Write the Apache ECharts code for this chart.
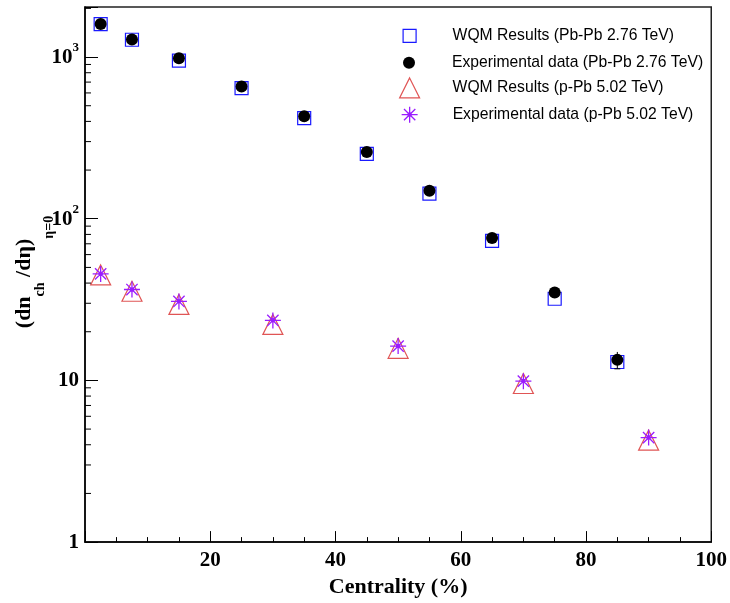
<!DOCTYPE html>
<html><head><meta charset="utf-8">
<script src="https://cdn.jsdelivr.net/npm/echarts@6/dist/echarts.min.js"></script>
<style>html,body{margin:0;padding:0;background:#fff}#c{width:730px;height:603px}</style>
</head><body><div id="c"></div>
<script>
// ---- data ----
const pbpbCentrality = [2.5, 7.5, 15, 25, 35, 45, 55, 65, 75, 85];
const wqmPbPb = [1600, 1280, 950, 643, 419, 252, 143, 73, 32, 13.0];
const expPbPb = [1603, 1284, 982, 658, 431, 259, 149, 76, 35, 13.4];
const expPbPbErr = [60, 49, 37, 23, 15, 9, 6, 4, 2, 1.6];
const ppbCentrality = [2.5, 7.5, 15, 30, 50, 70, 90];
const wqmPPb = [44.9, 35.6, 29.5, 22.2, 15.8, 9.57, 4.27];
const expPPb = [45.6, 36.5, 30.8, 23.5, 16.3, 9.9, 4.43];
const xTickValues = [20, 40, 60, 80, 100];
const yTickLabels = {1: '1', 10: '10', 100: '{m|10}{sup|2}', 1000: '{m|10}{sup|3}'};
const yMinorTicks = [2,3,4,5,6,7,8,9,20,30,40,50,60,70,80,90,200,300,400,500,600,700,800,900,2000];
const seriesNames = [
  'WQM Results (Pb-Pb 2.76 TeV)',
  'Experimental data (Pb-Pb 2.76 TeV)',
  'WQM Results (p-Pb 5.02 TeV)',
  'Experimental data (p-Pb 5.02 TeV)'
];
const xTitle = 'Centrality (%)';

// ---- chart ----
const SERIF = 'Liberation Serif';
const SANS = 'Liberation Sans';
const STAR = 'path://M8,0L8,16M0,8L16,8M2.34,2.34L13.66,13.66M2.34,13.66L13.66,2.34M9.7,8A1.7,1.7,0,1,1,6.3,8A1.7,1.7,0,1,1,9.7,8Z';
const zip = (xs, ys) => xs.map((x, i) => [x, ys[i]]);

const chart = echarts.init(document.getElementById('c'), null, {renderer: 'canvas'});

const legendSpecs = [
  {size: 13, cy: 34.3, pad: 31.5, bw: 1.2},
  {size: 12, cy: 60.7, pad: 32, bw: 0},
  {size: 20, cy: 87.3, pad: 28, bw: 1.2},
  {size: 16, cy: 114, pad: 30, bw: 1.3}
];
const legendCx = 409;

const option = {
  animation: false,
  backgroundColor: '#fff',
  grid: {left: 85, right: 16, top: 7, bottom: 57, show: true, borderColor: '#222', borderWidth: 1.5, containLabel: false},
  legend: legendSpecs.map((s, i) => ({
    data: [seriesNames[i]],
    orient: 'vertical',
    left: legendCx - s.size / 2,
    top: s.cy - s.size / 2,
    padding: 0,
    itemGap: 0,
    itemWidth: s.size,
    itemHeight: s.size,
    selectedMode: false,
    itemStyle: {borderWidth: s.bw},
    textStyle: {fontFamily: SANS, fontSize: 15.7, color: '#000', padding: [0, 0, 0, s.pad]}
  })),
  xAxis: {
    type: 'value', min: 0, max: 100, interval: 20,
    name: xTitle, nameLocation: 'middle', nameGap: 24,
    nameTextStyle: {fontFamily: SERIF, fontWeight: 'bold', fontSize: 22, color: '#000'},
    axisLine: {show: true, onZero: false, lineStyle: {color: '#000', width: 1.5}},
    axisTick: {show: true, inside: true, length: 11, lineStyle: {color: '#000', width: 1}},
    minorTick: {show: true, splitNumber: 4, length: 5, lineStyle: {color: '#000', width: 1}},
    splitLine: {show: false},
    axisLabel: {
      margin: 8, fontFamily: SERIF, fontWeight: 'bold', fontSize: 21, color: '#000',
      formatter: v => (xTickValues.indexOf(v) >= 0 ? String(v) : '')
    }
  },
  yAxis: {
    type: 'log', logBase: 10, min: 1, max: 2040,
    axisLine: {show: true, lineStyle: {color: '#000', width: 1.5}},
    axisTick: {show: true, inside: true, length: 13, lineStyle: {color: '#000', width: 1}},
    splitLine: {show: false},
    axisLabel: {
      margin: 6, fontFamily: SERIF, fontWeight: 'bold', fontSize: 21, color: '#000',
      formatter: v => {
        const e = Math.log10(v), r = Math.round(e);
        if (Math.abs(e - r) > 1e-6) return '';
        return yTickLabels[Math.pow(10, r)] || '';
      },
      rich: {
        m: {fontFamily: SERIF, fontWeight: 'bold', fontSize: 21, color: '#000', lineHeight: 22, verticalAlign: 'bottom', padding: [9, 0, 0, 0]},
        sup: {fontFamily: SERIF, fontWeight: 'bold', fontSize: 13, color: '#000', lineHeight: 13, verticalAlign: 'bottom', padding: [0, 0, 14, 0]}
      }
    }
  },
  graphic: [{
    type: 'text',
    x: 44, y: 272,
    rotation: Math.PI / 2,
    style: {
      text: '{a|(dn}{b|ch}{a| /dη)}{c|η=0}',
      align: 'center', verticalAlign: 'middle',
      rich: {
        a: {fontFamily: SERIF, fontWeight: 'bold', fontSize: 22, fill: '#000', lineHeight: 24, verticalAlign: 'bottom', padding: [0, 0, 21, 0]},
        b: {fontFamily: SERIF, fontWeight: 'bold', fontSize: 14, fill: '#000', lineHeight: 14, verticalAlign: 'bottom', padding: [0, 0, 8.5, 0]},
        c: {fontFamily: SERIF, fontWeight: 'bold', fontSize: 14, fill: '#000', lineHeight: 14, verticalAlign: 'bottom', padding: [0, 0, 0, 0]}
      }
    }
  }],
  series: [
    {
      name: seriesNames[0], type: 'scatter', data: zip(pbpbCentrality, wqmPbPb),
      symbol: 'rect', symbolSize: 13, z: 2,
      itemStyle: {color: 'rgba(0,0,0,0)', borderColor: '#1a1aff', borderWidth: 1.2, opacity: 1}
    },
    {
      name: 'errPbPb', type: 'custom', z: 3, silent: true,
      data: pbpbCentrality.map((x, i) => [x, expPbPb[i], expPbPbErr[i]]),
      renderItem: (params, api) => {
        const x = api.value(0), y = api.value(1), e = api.value(2);
        const p1 = api.coord([x, y + e]), p2 = api.coord([x, y - e]);
        return {type: 'group', children: [
          {type: 'line', shape: {x1: p1[0], y1: p1[1], x2: p2[0], y2: p2[1]}, style: {stroke: '#000', lineWidth: 1}},
          {type: 'line', shape: {x1: p2[0] - 3, y1: p2[1], x2: p2[0] + 3, y2: p2[1]}, style: {stroke: '#000', lineWidth: 1}}
        ]};
      }
    },
    {
      name: seriesNames[1], type: 'scatter', data: zip(pbpbCentrality, expPbPb),
      symbol: 'circle', symbolSize: 12, z: 4,
      itemStyle: {color: '#000', opacity: 1}
    },
    {
      name: seriesNames[2], type: 'scatter', data: zip(ppbCentrality, wqmPPb),
      symbol: 'triangle', symbolSize: 20, z: 2,
      itemStyle: {color: 'rgba(0,0,0,0)', borderColor: '#e05555', borderWidth: 1.2, opacity: 1}
    },
    {
      name: seriesNames[3], type: 'scatter', data: zip(ppbCentrality, expPPb),
      symbol: STAR, symbolSize: 16, z: 4,
      itemStyle: {color: '#9a1cff', borderColor: '#9a1cff', borderWidth: 1.3, opacity: 1}
    },
    {
      name: 'yMinor', type: 'custom', z: 5, silent: true, clip: false,
      data: yMinorTicks.map(v => [0, v]),
      renderItem: (params, api) => {
        const p = api.coord([0, api.value(1)]);
        return {type: 'line', shape: {x1: p[0], y1: p[1], x2: p[0] + 6, y2: p[1]}, style: {stroke: '#000', lineWidth: 1}};
      }
    }
  ]
};
chart.setOption(option);
</script>
</body></html>
